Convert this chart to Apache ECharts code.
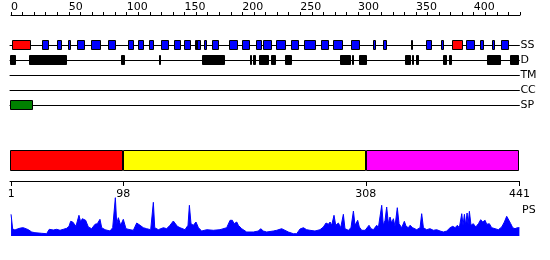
<!DOCTYPE html>
<html><head><meta charset="utf-8">
<script src="https://cdn.jsdelivr.net/npm/echarts@6/dist/echarts.min.js"></script>
<style>html,body{margin:0;padding:0;background:#fff}#c{width:550px;height:260px}</style>
</head><body><div id="c"></div>
<script>
const seqLength = 441;
const topTickMax = 440;
const rulerTicks = [1, 98, 308, 441];
const trackNames = ['SS', 'D', 'TM', 'CC', 'SP'];
const ssHelix = [[28,34],[41,45],[50,53],[58,65],[70,79],[85,92],[102,107],[111,116],[120,125],[131,138],[142,148],[151,157],[160,165],[168,170.5],[175,181],[190,197],[201,207.5],[213,218],[219,226.5],[230.5,239],[243.5,250],[254.5,264.5],[269.5,276],[280,288],[295,303],[314.3,316.6],[323,326.7],[347.4,349.2],[360.4,365.6],[373.4,375.8],[395,402.3],[406.7,410.4],[417.6,420],[425.4,432]];
const ssStrand = [[2,18],[161.3,162.5],[382.4,392.2]];
const disorder = [[0,5],[16.5,49.6],[96.4,99.6],[129,130.7],[166.5,186.1],[207.5,209.3],[210.4,212.7],[215.6,224.2],[226,230.6],[238,243.9],[285.7,295],[295.8,297.8],[302.2,308.8],[342,347],[348.3,349.8],[351.3,354.1],[375,378.6],[380,382.4],[413.3,425.5],[433,440.7]];
const transmembrane = [];
const coiledCoil = [];
const signalPeptide = [[0,20]];
const domains = [[0,98],[98,308],[308,441]];
const domainColors = ['#ff0000','#ffff00','#ff00ff'];
const psPos = [0.9,2.3,4.3,6.3,9.2,11.5,13,15.9,18.8,21.6,27.4,31.7,34,37.5,40.4,43.3,46.2,49.1,51.1,52.5,54.3,55.4,57.1,58.6,59.7,61.2,62.6,64.1,65.5,67.8,70.7,73.6,75.6,77.9,79.4,82.3,86.6,88.9,90.3,91.2,92.4,93.8,95.8,98.1,100.4,103.9,106.8,109.7,111.1,112.6,115.4,118.3,121.8,123.2,124.1,125.3,128.4,132.8,135.6,138.5,141.4,142.9,144.9,147.2,151.5,154.1,155.3,156.7,158.7,161,163.1,166,170.3,176,181.8,187.6,190.5,192.5,194,196.3,197.7,200.6,204.9,210.7,215,217,219.3,222.2,228,230.9,235.2,241,245.3,248.2,251.1,254,256.8,259.7,264,268.4,271.3,273.6,275.6,277.1,278.5,280.5,282,284.3,286.3,288.6,290,292.9,295.2,297.3,298.7,301,302.4,304.5,307.4,310.8,312.5,314.6,317.5,318.9,321.8,323.2,324.7,326.1,327.6,329,330.4,331.9,333.3,335.3,336.8,339.1,341.4,342.9,344.9,346.3,348.6,352.1,355,356.4,357.9,360.7,363.6,366.5,369.4,372.3,375.2,378.1,381,383.3,385.3,387.3,389,391.1,392.2,393.4,394.5,395.7,396.6,397.7,399.1,401.1,403.2,405.5,407.5,409.2,411.3,412.7,415,417,419.9,422.8,425.7,428,430,431.7,433.5,435.2,437.2,439.2,441];
const psVal = [21.7,7,6,7,8,8.3,7.3,6.3,4,3.3,2.7,2.3,6.7,6,6.7,5.7,6.7,7.7,9.7,14.7,14,12.3,9.7,9,20.7,14,17.3,18,15.7,9,7.3,11.7,12.3,16.7,8.3,6.3,5,8.3,10,38.3,12.3,18.3,10.7,16.7,7.3,6.3,5.7,13,14.7,10.7,8.3,7.3,6.3,8,33.7,8.3,6.3,8.3,7.3,10.7,15,16.3,9.7,8.3,6.3,10.7,30.7,12.3,10.7,14,8.3,5,6.3,5.7,6.3,8.3,15.7,15.7,12.3,14,10.7,7.3,4,4,5,7.3,5,4,5,5.7,7.3,4,2.3,2.3,7,8.3,6.3,5.7,5,6.3,9,13,11.7,14,10.7,20.7,10.7,13,8.3,21.7,7.3,5.7,8.3,25,10.7,15.7,9,5.7,5.7,10.7,7.3,6.3,10.7,8.3,30.7,10.7,15.7,29,12.3,19,13,17.3,9.7,28.3,12.3,8.3,14.7,9.7,8.3,10.7,8.3,6.3,8.3,22.3,8.3,6.3,7.3,5.7,6.3,5,4,5,8.3,9.7,8.3,10.7,8.3,22.3,10.7,21.7,10.7,23,11.7,24.7,10.7,12.3,9,12.3,16.3,14,15.7,11.7,12.3,8.3,7.3,6.3,9,14,19.7,18.3,12.3,8.3,7.3,8.3,8.3];

const FONT = 'DejaVu Sans';
const chart = echarts.init(document.getElementById('c'), null, {renderer: 'canvas'});

const L = 10, R = 550 - 519.4;
const grids = [], xAxes = [], yAxes = [], series = [];

// top ruler
grids.push({left: 11, right: 30, top: 14, height: 1});
xAxes.push({gridIndex: 0, type: 'value', position: 'top', min: 0, max: topTickMax, interval: 10,
  axisLine: {lineStyle: {color: '#000', width: 1}},
  axisTick: {length: 3, lineStyle: {color: '#000'}},
  axisLabel: {align: 'left', margin: 1, color: '#000', fontSize: 11, fontFamily: FONT,
    formatter: v => (v % 50 === 0 ? String(v) : '')},
  splitLine: {show: false}});
yAxes.push({gridIndex: 0, type: 'value', show: false});

function boxRender(color) {
  return function (params, api) {
    const a = api.coord([api.value(0), 1]);
    const b = api.coord([api.value(1), -1]);
    const x0 = Math.round(a[0]) + 0.5, x1 = Math.round(b[0]) - 0.5;
    const y0 = Math.round(a[1]) + 0.5, y1 = Math.round(b[1]) - 0.5;
    return {type: 'rect', shape: {x: x0, y: y0, width: Math.max(x1 - x0, 1), height: y1 - y0},
      style: {fill: color, stroke: '#000', lineWidth: 1}};
  };
}
function addBoxes(gi, data, color) {
  series.push({type: 'custom', xAxisIndex: gi, yAxisIndex: gi, data: data, renderItem: boxRender(color),
    encode: {x: [0, 1]}, silent: true, clip: false});
}

const rowTops = [40, 55, 70, 85, 100];
trackNames.forEach((name, i) => {
  const gi = grids.length;
  grids.push({left: L, right: R, top: rowTops[i], height: 10});
  xAxes.push({gridIndex: gi, type: 'value', min: 0, max: seqLength,
    axisLine: {onZero: true, lineStyle: {color: '#000', width: 1}},
    axisTick: {show: false}, axisLabel: {show: false}, splitLine: {show: false},
    name: name, nameLocation: 'end', nameGap: 1,
    nameTextStyle: {color: '#000', fontSize: 11, fontFamily: FONT}});
  yAxes.push({gridIndex: gi, type: 'value', min: -1, max: 1, show: false});
});
addBoxes(1, ssHelix, '#0000ff');
addBoxes(1, ssStrand, '#ff0000');
addBoxes(2, disorder, '#000000');
addBoxes(3, transmembrane, '#ffa500');
addBoxes(4, coiledCoil, '#00ffff');
addBoxes(5, signalPeptide, '#008000');

// domain bar
const gDom = grids.length;
grids.push({left: L, right: R, top: 150, height: 21});
xAxes.push({gridIndex: gDom, type: 'value', min: 0, max: seqLength, show: false});
yAxes.push({gridIndex: gDom, type: 'value', min: -1, max: 1, show: false});
series.push({type: 'custom', xAxisIndex: gDom, yAxisIndex: gDom,
  data: domains.map((d, i) => [d[0], d[1], i]), encode: {x: [0, 1]}, silent: true, clip: false,
  renderItem: (params, api) => boxRender(domainColors[api.value(2)])(params, api)});

// residue ruler
const gRul = grids.length;
grids.push({left: L, right: R, top: 180, height: 1});
xAxes.push({gridIndex: gRul, type: 'value', position: 'bottom', min: 0, max: seqLength,
  axisLine: {lineStyle: {color: '#000', width: 1}},
  axisTick: {length: 5, customValues: rulerTicks, lineStyle: {color: '#000'}},
  axisLabel: {customValues: rulerTicks, margin: 8, color: '#000', fontSize: 11, fontFamily: FONT},
  splitLine: {show: false}});
yAxes.push({gridIndex: gRul, type: 'value', show: false});

// PS profile
const gPs = grids.length;
grids.push({left: L, right: R, top: 196, height: 40});
xAxes.push({gridIndex: gPs, type: 'value', min: 0, max: seqLength, show: false});
yAxes.push({gridIndex: gPs, type: 'value', min: 0, max: 40, show: false});
series.push({type: 'line', xAxisIndex: gPs, yAxisIndex: gPs,
  data: psPos.map((p, i) => [p, psVal[i]]), showSymbol: false, symbol: 'none',
  lineStyle: {color: '#0000ff', width: 1}, areaStyle: {color: '#0000ff', opacity: 1}, silent: true});

chart.setOption({
  animation: false,
  grid: grids, xAxis: xAxes, yAxis: yAxes, series: series,
  graphic: [{type: 'text', left: 522, top: 205, style: {text: 'PS', fill: '#000', fontSize: 11, fontFamily: FONT}}]
});
</script></body></html>
